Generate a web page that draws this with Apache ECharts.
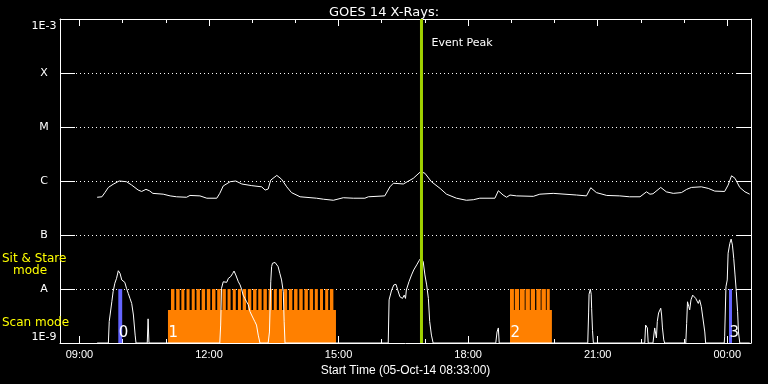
<!DOCTYPE html>
<html><head><meta charset="utf-8">
<script src="https://cdn.jsdelivr.net/npm/echarts@6/dist/echarts.min.js"></script>
<style>html,body{margin:0;padding:0;background:#000}#c{width:768px;height:384px}</style>
</head><body><div id="c"></div>
<script>
const titleText = 'GOES 14 X-Rays:';
const xAxisName = 'Start Time (05-Oct-14 08:33:00)';
const timeMin = 8.55, timeMax = 24.55;
const majorHours = [9, 12, 15, 18, 21, 24];
const minorHours = [10, 11, 13, 14, 16, 17, 19, 20, 22, 23];
const yClassLabels = {'-3': '1E-3', '-4': 'X', '-5': 'M', '-6': 'C', '-7': 'B', '-8': 'A', '-9': '1E-9'};
const baseLevel = 1e-9, scanLevel = 4.1e-9, sitStareLevel = 1e-8, topLevel = 1e-3;

const longChannel = [
 [9.41,5.0e-7],[9.52,5.1e-7],[9.59,6.1e-7],[9.67,7.6e-7],[9.78,8.7e-7],[9.92,1.0e-6],[10.09,9.7e-7],[10.21,8.4e-7],
 [10.36,6.8e-7],[10.44,6.4e-7],[10.54,7.0e-7],[10.62,6.6e-7],[10.70,5.9e-7],[10.94,5.7e-7],[11.10,5.3e-7],[11.25,5.1e-7],
 [11.48,5.0e-7],[11.56,5.4e-7],[11.79,5.3e-7],[11.95,4.8e-7],[12.18,4.8e-7],[12.25,5.9e-7],[12.33,8.1e-7],[12.49,9.7e-7],
 [12.62,1.0e-6],[12.76,8.8e-7],[12.99,8.2e-7],[13.22,7.8e-7],[13.30,6.8e-7],[13.37,7.1e-7],[13.43,1.04e-6],[13.57,1.27e-6],
 [13.68,1.08e-6],[13.80,7.8e-7],[13.91,6.1e-7],[14.11,5.1e-7],[14.49,4.8e-7],[14.65,4.6e-7],[14.88,4.4e-7],[15.11,4.9e-7],
 [15.34,4.8e-7],[15.61,4.8e-7],[15.69,5.1e-7],[16.07,5.3e-7],[16.19,7.8e-7],[16.27,9.1e-7],[16.50,8.8e-7],[16.73,1.12e-6],
 [16.90,1.49e-6],[17.00,1.39e-6],[17.15,9.7e-7],[17.35,7.3e-7],[17.50,5.7e-7],[17.73,4.8e-7],[17.96,4.4e-7],[18.12,4.5e-7],
 [18.27,4.8e-7],[18.62,4.8e-7],[18.70,6.6e-7],[18.81,5.5e-7],[18.89,5.0e-7],[18.97,5.5e-7],[19.12,5.3e-7],[19.51,5.2e-7],
 [19.66,5.7e-7],[19.97,5.9e-7],[20.51,5.5e-7],[20.74,5.3e-7],[20.84,7.5e-7],[20.97,6.1e-7],[21.21,5.4e-7],[21.51,5.3e-7],
 [21.74,5.1e-7],[21.98,5.1e-7],[22.13,6.3e-7],[22.21,5.7e-7],[22.28,5.8e-7],[22.46,7.6e-7],[22.59,6.3e-7],[22.75,5.9e-7],
 [22.94,6.1e-7],[23.06,7.0e-7],[23.17,7.6e-7],[23.40,7.8e-7],[23.56,7.3e-7],[23.71,6.5e-7],[23.94,6.4e-7],[24.02,8.4e-7],
 [24.10,1.25e-6],[24.18,1.12e-6],[24.29,7.6e-7],[24.41,6.3e-7],[24.52,5.7e-7]
];

const shortChannel = [
 [9.41,1e-9],[9.67,1e-9],[9.69,2.5e-9],[9.75,5.8e-9],[9.78,8.9e-9],[9.82,1.28e-8],[9.86,1.58e-8],[9.90,2.18e-8],[9.94,1.95e-8],
 [9.98,1.47e-8],[10.05,1.33e-8],[10.09,1.03e-8],[10.13,8.3e-9],[10.17,6.7e-9],[10.21,5.4e-9],[10.25,3.3e-9],[10.29,1.4e-9],[10.31,1e-9],
 [10.57,1e-9],[10.59,2.8e-9],[10.61,1e-9],
 [12.25,1e-9],[12.27,2.15e-9],[12.29,1.03e-8],[12.33,1.36e-8],[12.37,1.47e-8],[12.41,1.33e-8],[12.45,1.58e-8],[12.50,1.69e-8],
 [12.55,1.95e-8],[12.58,2.15e-8],[12.62,1.82e-8],[12.68,1.36e-8],[12.72,1.19e-8],[12.76,9.6e-9],[12.79,7.7e-9],[12.83,6.7e-9],
 [12.87,5.8e-9],[12.91,5.1e-9],[12.95,3.8e-9],[12.99,3.5e-9],[13.02,2.9e-9],[13.06,2.5e-9],[13.10,2.15e-9],[13.14,1.4e-9],[13.18,1e-9],
 [13.37,1e-9],[13.40,1.6e-9],[13.43,1.36e-8],[13.45,2.6e-8],[13.47,3.0e-8],[13.53,3.1e-8],[13.57,3.0e-8],[13.60,2.6e-8],
 [13.64,1.95e-8],[13.68,1.47e-8],[13.72,8.9e-9],[13.74,2.5e-9],[13.76,1e-9],
 [16.15,1e-9],[16.17,6.3e-9],[16.23,9.6e-9],[16.28,1.19e-8],[16.33,1.22e-8],[16.37,9.6e-9],[16.42,7.2e-9],[16.48,6.7e-9],
 [16.52,7.7e-9],[16.55,6.7e-9],[16.57,9.6e-9],[16.63,1.36e-8],[16.69,1.82e-8],[16.74,2.25e-8],[16.81,2.8e-8],[16.87,3.4e-8],
 [16.91,3.8e-8],[16.96,3.2e-8],[17.00,1.82e-8],[17.04,1.19e-8],[17.08,6.7e-9],[17.11,2.5e-9],[17.15,1.4e-9],[17.19,1e-9],
 [18.64,1e-9],[18.67,1.6e-9],[18.70,1.9e-9],[18.72,1e-9],
 [20.77,1e-9],[20.79,3.6e-9],[20.80,8.0e-9],[20.83,9.9e-9],[20.85,8.0e-9],[20.86,4.4e-9],[20.88,1.7e-9],[20.90,1e-9],
 [22.09,1e-9],[22.11,2.15e-9],[22.13,2.3e-9],[22.15,1.9e-9],[22.17,1e-9],
 [22.28,1e-9],[22.32,1.9e-9],[22.36,1.24e-9],[22.38,2.5e-9],[22.41,3.6e-9],[22.44,3.9e-9],[22.46,4.4e-9],[22.48,3.3e-9],
 [22.50,1.9e-9],[22.53,1.14e-9],[22.55,1e-9],
 [23.04,1e-9],[23.06,2.3e-9],[23.08,5.8e-9],[23.11,4.7e-9],[23.13,4.1e-9],[23.16,6.3e-9],[23.20,7.7e-9],[23.23,7.2e-9],
 [23.27,6.7e-9],[23.30,7.2e-9],[23.33,5.4e-9],[23.36,6.3e-9],[23.40,4.7e-9],[23.44,4.4e-9],[23.48,1.6e-9],[23.50,1e-9],
 [23.93,1e-9],[23.94,1.3e-9],[23.97,1.1e-8],[24.00,1.47e-8],[24.02,4.6e-8],[24.06,7.0e-8],[24.09,8.4e-8],[24.12,6.5e-8],
 [24.15,3.7e-8],[24.18,1.82e-8],[24.21,8.9e-9],[24.24,3.8e-9],[24.26,1.6e-9],[24.29,1e-9],[24.52,1e-9]
];

const scanSegments = [[11.05, 14.94], [18.97, 19.94]];
const sitStareSegments = [
 [11.12,11.20],[11.24,11.32],[11.36,11.43],[11.48,11.55],[11.60,11.67],[11.71,11.79],[11.83,11.91],[11.95,12.03],
 [12.07,12.15],[12.19,12.27],[12.31,12.39],[12.43,12.50],[12.55,12.62],[12.67,12.74],[12.78,12.86],[12.90,12.98],
 [13.02,13.10],[13.14,13.22],[13.26,13.34],[13.38,13.46],[13.50,13.57],[13.62,13.69],[13.73,13.81],[13.85,13.93],
 [13.97,14.05],[14.09,14.17],[14.21,14.29],[14.33,14.41],[14.45,14.52],[14.57,14.64],[14.69,14.76],[14.80,14.88],
 [18.97,19.06],[19.08,19.18],[19.20,19.31],[19.33,19.43],[19.45,19.55],[19.58,19.68],[19.70,19.80],[19.82,19.89]
];
const blueSegments = [[9.90, 9.99], [24.04, 24.11]];
const segmentLabels = ['0', '1', '2', '3'];
const segmentLabelTimes = [9.90, 11.05, 18.97, 24.04];
const eventPeakTime = 16.92;
const eventLabel = 'Event Peak';
const modeLabels = ['Sit & Stare', 'mode', 'Scan mode'];

const FONT = '"DejaVu Sans", sans-serif';
const TICKFONT = '"Liberation Sans", Arial, sans-serif';

function fmtHour(v) {
  const h = Math.round(v) % 24;
  return (h < 10 ? '0' : '') + h + ':00';
}

function rectItem(color, level) {
  return function (params, api) {
    const p0 = api.coord([api.value(0), baseLevel]);
    const p1 = api.coord([api.value(1), level]);
    return {
      type: 'rect',
      shape: { x: p0[0], y: p1[1], width: p1[0] - p0[0], height: p0[1] - p1[1] },
      style: { fill: color }
    };
  };
}

const chart = echarts.init(document.getElementById('c'), null, { renderer: 'canvas' });

const baseX = { type: 'value', min: timeMin, max: timeMax, splitLine: { show: false } };
const tickStyle = { color: '#ffffff', width: 1 };

chart.setOption({
  animation: false,
  backgroundColor: '#000',
  title: {
    text: titleText, left: 'center', top: 1,
    textStyle: { color: '#fff', fontSize: 13, fontWeight: 'normal', fontFamily: FONT }
  },
  grid: { left: 60, right: 17, top: 19, bottom: 41 },
  xAxis: [
    Object.assign({}, baseX, {
      position: 'bottom',
      axisLine: { show: true, onZero: false, lineStyle: { color: '#fff', width: 1 } },
      axisTick: { show: true, inside: true, length: 7, customValues: majorHours, lineStyle: tickStyle },
      axisLabel: { show: true, customValues: majorHours, formatter: fmtHour, color: '#fff', fontSize: 11, fontFamily: TICKFONT, margin: 6 },
      name: xAxisName, nameLocation: 'middle', nameGap: 19,
      nameTextStyle: { color: '#fff', fontSize: 12, fontFamily: TICKFONT }
    }),
    Object.assign({}, baseX, {
      position: 'bottom',
      axisLine: { show: false, onZero: false },
      axisTick: { show: true, inside: true, length: 4, customValues: minorHours, lineStyle: tickStyle },
      axisLabel: { show: false }
    }),
    Object.assign({}, baseX, {
      position: 'top',
      axisLine: { show: true, onZero: false, lineStyle: { color: '#fff', width: 1 } },
      axisTick: { show: true, inside: true, length: 7, customValues: majorHours, lineStyle: tickStyle },
      axisLabel: { show: false }
    }),
    Object.assign({}, baseX, {
      position: 'top',
      axisLine: { show: false, onZero: false },
      axisTick: { show: true, inside: true, length: 4, customValues: minorHours, lineStyle: tickStyle },
      axisLabel: { show: false }
    })
  ],
  yAxis: [
    {
      type: 'log', logBase: 10, min: baseLevel, max: topLevel, position: 'left',
      axisLine: { show: true, onZero: false, lineStyle: { color: '#fff', width: 1 } },
      axisTick: { show: true, inside: true, length: 15, lineStyle: tickStyle },
      axisLabel: {
        show: true, color: '#fff', fontSize: 11, fontFamily: FONT, align: 'center', margin: 16,
        verticalAlignMinLabel: 'bottom',
        rich: { t: { color: '#fff', fontSize: 11, fontFamily: FONT, padding: [14, 0, 0, 0] } },
        formatter: function (v) {
          const k = Math.round(Math.log10(v));
          const s = yClassLabels[String(k)] || '';
          return k === -3 ? '{t|' + s + '}' : s;
        }
      },
      splitLine: { show: true, lineStyle: { color: '#fff', type: [1, 3], width: 1 } }
    },
    {
      type: 'log', logBase: 10, min: baseLevel, max: topLevel, position: 'right',
      axisLine: { show: true, onZero: false, lineStyle: { color: '#fff', width: 1 } },
      axisTick: { show: true, inside: true, length: 14, lineStyle: tickStyle },
      axisLabel: { show: false },
      splitLine: { show: false }
    }
  ],
  graphic: [
    { type: 'text', left: 2, top: 253, z: 100, style: { text: modeLabels[0], fill: '#ffff00', font: '12px ' + FONT } },
    { type: 'text', left: 13, top: 265, z: 100, style: { text: modeLabels[1], fill: '#ffff00', font: '12px ' + FONT } },
    { type: 'text', left: 2, top: 317, z: 100, style: { text: modeLabels[2], fill: '#ffff00', font: '12px ' + FONT } }
  ],
  series: [
    {
      name: 'scan', type: 'custom', z: 1, clip: true,
      data: scanSegments.map(s => [s[0], s[1], scanLevel]),
      encode: { x: [0, 1], y: 2 },
      renderItem: rectItem('#ff8000', scanLevel)
    },
    {
      name: 'sitstare', type: 'custom', z: 1, clip: true,
      data: sitStareSegments.map(s => [s[0], s[1], sitStareLevel]),
      encode: { x: [0, 1], y: 2 },
      renderItem: rectItem('#ff8000', sitStareLevel)
    },
    {
      name: 'blue', type: 'custom', z: 2, clip: true,
      data: blueSegments.map(s => [s[0], s[1], sitStareLevel]),
      encode: { x: [0, 1], y: 2 },
      renderItem: rectItem('#6464ff', sitStareLevel)
    },
    {
      name: 'long', type: 'line', z: 3, data: longChannel, showSymbol: false, symbol: 'none',
      lineStyle: { color: '#fff', width: 1 }, clip: true
    },
    {
      name: 'short', type: 'line', z: 3, data: shortChannel, showSymbol: false, symbol: 'none',
      lineStyle: { color: '#fff', width: 1 }, clip: true
    },
    {
      name: 'labels', type: 'custom', z: 4, clip: false,
      data: segmentLabelTimes.map(t => [t, baseLevel]),
      encode: { x: 0, y: 1 },
      renderItem: function (params, api) {
        const p = api.coord([api.value(0), baseLevel]);
        return {
          type: 'text', x: p[0] + 0.5, y: p[1] - 10,
          style: { text: segmentLabels[params.dataIndex], fill: '#fff', font: '15px ' + FONT, align: 'left', verticalAlign: 'middle' }
        };
      }
    },
    {
      name: 'event', type: 'custom', z: 5, clip: false,
      data: [[eventPeakTime, topLevel]],
      encode: { x: 0, y: 1 },
      renderItem: function (params, api) {
        const top = api.coord([api.value(0), topLevel]);
        const bot = api.coord([api.value(0), baseLevel]);
        return {
          type: 'group',
          children: [
            { type: 'line', shape: { x1: top[0], y1: top[1], x2: bot[0], y2: bot[1] }, style: { stroke: '#a0d000', lineWidth: 3 } },
            { type: 'text', x: top[0] + 10, y: top[1] + 24,
              style: { text: eventLabel, fill: '#fff', font: '11px ' + FONT, align: 'left', verticalAlign: 'middle' } }
          ]
        };
      }
    }
  ]
});
</script>
</body></html>
